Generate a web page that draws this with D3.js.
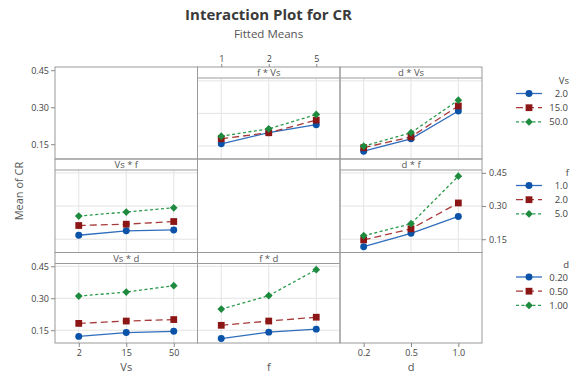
<!DOCTYPE html>
<html>
<head>
<meta charset="utf-8">
<script src="https://cdn.jsdelivr.net/npm/d3@7"></script>
<style>
body { margin: 0; background: #fff; }
text { font-family: "Open Sans", "Noto Sans", sans-serif; }
</style>
</head>
<body>
<div id="chart"></div>
<script>
// factor levels
var vsLevels = ["2", "15", "50"];
var fLevels = ["1", "2", "5"];
var dLevels = ["0.2", "0.5", "1.0"];
var vsLegend = ["2.0", "15.0", "50.0"];
var fLegend = ["1.0", "2.0", "5.0"];
var dLegend = ["0.20", "0.50", "1.00"];
var yTicks = [0.15, 0.30, 0.45];

// fitted means, one array per trace level (rows of the matrix)
// row 1: traces = Vs
var fVs_2 = [0.160, 0.211, 0.248];
var fVs_15 = [0.183, 0.211, 0.269];
var fVs_50 = [0.195, 0.229, 0.295];
var dVs_2 = [0.126, 0.183, 0.311];
var dVs_15 = [0.142, 0.192, 0.334];
var dVs_50 = [0.149, 0.211, 0.361];
// row 2: traces = f
var Vsf_1 = [0.168, 0.188, 0.192];
var Vsf_2 = [0.212, 0.218, 0.230];
var Vsf_5 = [0.255, 0.273, 0.292];
var df_1 = [0.116, 0.177, 0.253];
var df_2 = [0.147, 0.197, 0.314];
var df_5 = [0.166, 0.220, 0.435];
// row 3: traces = d
var Vsd_02 = [0.121, 0.139, 0.145];
var Vsd_05 = [0.182, 0.193, 0.200];
var Vsd_10 = [0.310, 0.329, 0.359];
var fd_02 = [0.111, 0.141, 0.155];
var fd_05 = [0.173, 0.193, 0.211];
var fd_10 = [0.249, 0.312, 0.434];

var width = 572, height = 374;
var colX = [55, 197.5, 340, 482];
var rowY = [67, 159, 252.5, 343];
var stripH = 11;
var yDomain = [0.09, 0.463];

var markerCol = ["#0a53a8", "#8c1515", "#1d8a3e"];
var lineCol = ["#2f6dbd", "#a83a3a", "#2b9a4c"];
var dashes = [null, "7,4", "3,2.5"];
var shapes = [d3.symbolCircle, d3.symbolSquare, d3.symbolSquare];
var shapeSize = [38, 46, 30];
var shapeRot = [0, 0, 45];

var panels = [
  {row: 0, col: 1, title: "f * Vs", x: fLevels, series: [fVs_2, fVs_15, fVs_50]},
  {row: 0, col: 2, title: "d * Vs", x: dLevels, series: [dVs_2, dVs_15, dVs_50]},
  {row: 1, col: 0, title: "Vs * f", x: vsLevels, series: [Vsf_1, Vsf_2, Vsf_5]},
  {row: 1, col: 2, title: "d * f", x: dLevels, series: [df_1, df_2, df_5]},
  {row: 2, col: 0, title: "Vs * d", x: vsLevels, series: [Vsd_02, Vsd_05, Vsd_10]},
  {row: 2, col: 1, title: "f * d", x: fLevels, series: [fd_02, fd_05, fd_10]}
];
var colLevels = [vsLevels, fLevels, dLevels];

var svg = d3.select("#chart").append("svg")
  .attr("width", width)
  .attr("height", height);

function xScale(col) {
  return d3.scalePoint().domain(colLevels[col])
    .range([colX[col], colX[col + 1]]).padding(0.5);
}
function yScale(row, strip) {
  return d3.scaleLinear().domain(yDomain)
    .range([rowY[row + 1], rowY[row] + (strip ? stripH : 0)]);
}

// titles
svg.append("text").attr("x", 268.5).attr("y", 20)
  .attr("text-anchor", "middle").style("font-size", "15px").style("font-weight", "bold")
  .attr("fill", "#3a3a3a").text("Interaction Plot for CR");
svg.append("text").attr("x", 268.5).attr("y", 38)
  .attr("text-anchor", "middle").style("font-size", "11.5px")
  .attr("fill", "#555").text("Fitted Means");

// panels
panels.forEach(function(p) {
  var x = xScale(p.col);
  var y = yScale(p.row, true);
  var g = svg.append("g");
  var top = rowY[p.row] + stripH, bot = rowY[p.row + 1];

  // gridlines
  g.selectAll(".vg").data(p.x).enter().append("line")
    .attr("x1", function(d) { return x(d); }).attr("x2", function(d) { return x(d); })
    .attr("y1", top).attr("y2", bot)
    .attr("stroke", "#e3e3e3");
  g.selectAll(".hg").data(yTicks).enter().append("line")
    .attr("x1", colX[p.col]).attr("x2", colX[p.col + 1])
    .attr("y1", function(d) { return y(d); }).attr("y2", function(d) { return y(d); })
    .attr("stroke", "#e3e3e3");

  // strip
  g.append("line").attr("x1", colX[p.col]).attr("x2", colX[p.col + 1])
    .attr("y1", top).attr("y2", top).attr("stroke", "#9a9a9a");
  g.append("text").attr("x", (colX[p.col] + colX[p.col + 1]) / 2).attr("y", top - 2)
    .attr("text-anchor", "middle").style("font-size", "9.5px").attr("fill", "#555")
    .text(p.title);

  var line = d3.line().x(function(d, i) { return x(p.x[i]); }).y(function(d) { return y(d); });
  p.series.forEach(function(s, k) {
    g.append("path").datum(s).attr("d", line)
      .attr("fill", "none").attr("stroke", lineCol[k]).attr("stroke-width", 1.3)
      .attr("stroke-dasharray", dashes[k]);
  });
  p.series.forEach(function(s, k) {
    g.selectAll(".m" + k).data(s).enter().append("path")
      .attr("d", d3.symbol().type(shapes[k]).size(shapeSize[k]))
      .attr("transform", function(d, i) {
        return "translate(" + x(p.x[i]) + "," + y(d) + ") rotate(" + shapeRot[k] + ")";
      })
      .attr("fill", markerCol[k]);
  });
});

// panel frames
for (var r = 0; r < 3; r++) {
  for (var c = 0; c < 3; c++) {
    svg.append("rect").attr("x", colX[c]).attr("y", rowY[r])
      .attr("width", colX[c + 1] - colX[c]).attr("height", rowY[r + 1] - rowY[r])
      .attr("fill", "none").attr("stroke", "#9a9a9a");
  }
}

function styleAxis(g) {
  g.select(".domain").remove();
  g.selectAll("line").attr("stroke", "#888");
  g.selectAll("text").style("font-size", "9px").attr("fill", "#444")
    .style("font-family", "'Open Sans', 'Noto Sans', sans-serif");
}

// y axes
svg.append("g").attr("transform", "translate(" + colX[0] + ",0)")
  .call(d3.axisLeft(yScale(0, false)).tickValues(yTicks).tickFormat(d3.format(".2f")).tickSize(4).tickPadding(2))
  .call(styleAxis);
svg.append("g").attr("transform", "translate(" + colX[3] + ",0)")
  .call(d3.axisRight(yScale(1, true)).tickValues(yTicks).tickFormat(d3.format(".2f")).tickSize(4).tickPadding(3))
  .call(styleAxis);
svg.append("g").attr("transform", "translate(" + colX[0] + ",0)")
  .call(d3.axisLeft(yScale(2, true)).tickValues(yTicks).tickFormat(d3.format(".2f")).tickSize(4).tickPadding(2))
  .call(styleAxis);

// x axes
svg.append("g").attr("transform", "translate(0," + rowY[3] + ")")
  .call(d3.axisBottom(xScale(0)).tickSize(4).tickPadding(3)).call(styleAxis);
svg.append("g").attr("transform", "translate(0," + rowY[3] + ")")
  .call(d3.axisBottom(xScale(2)).tickSize(4).tickPadding(3)).call(styleAxis);
svg.append("g").attr("transform", "translate(0," + rowY[0] + ")")
  .call(d3.axisTop(xScale(1)).tickSize(3).tickPadding(2)).call(styleAxis);

// axis titles
var xTitles = ["Vs", "f", "d"];
xTitles.forEach(function(t, c) {
  svg.append("text").attr("x", (colX[c] + colX[c + 1]) / 2).attr("y", 371)
    .attr("text-anchor", "middle").style("font-size", "11px").attr("fill", "#555").text(t);
});
svg.append("text").attr("transform", "translate(23,191) rotate(-90)")
  .attr("text-anchor", "middle").style("font-size", "11px").attr("fill", "#555").text("Mean of CR");

// legends
var legends = [
  {title: "Vs", labels: vsLegend},
  {title: "f", labels: fLegend},
  {title: "d", labels: dLegend}
];
legends.forEach(function(L, r) {
  var y0 = rowY[r] + 14 - (r == 2 ? 2 : 0);
  var g = svg.append("g");
  g.append("text").attr("x", 569).attr("y", y0 + 3).attr("text-anchor", "end")
    .style("font-size", "9.5px").attr("fill", "#444").text(L.title);
  L.labels.forEach(function(lab, k) {
    var yy = y0 + 12.5 + k * 14.2;
    g.append("line").attr("x1", 516).attr("x2", 542).attr("y1", yy).attr("y2", yy)
      .attr("stroke", lineCol[k]).attr("stroke-width", 1.3).attr("stroke-dasharray", dashes[k]);
    g.append("path").attr("d", d3.symbol().type(shapes[k]).size(shapeSize[k]))
      .attr("transform", "translate(529," + yy + ") rotate(" + shapeRot[k] + ")").attr("fill", markerCol[k]);
    g.append("text").attr("x", 568).attr("y", yy + 3.5).attr("text-anchor", "end")
      .style("font-size", "9.5px").attr("fill", "#444").text(lab);
  });
});
</script>
</body>
</html>
